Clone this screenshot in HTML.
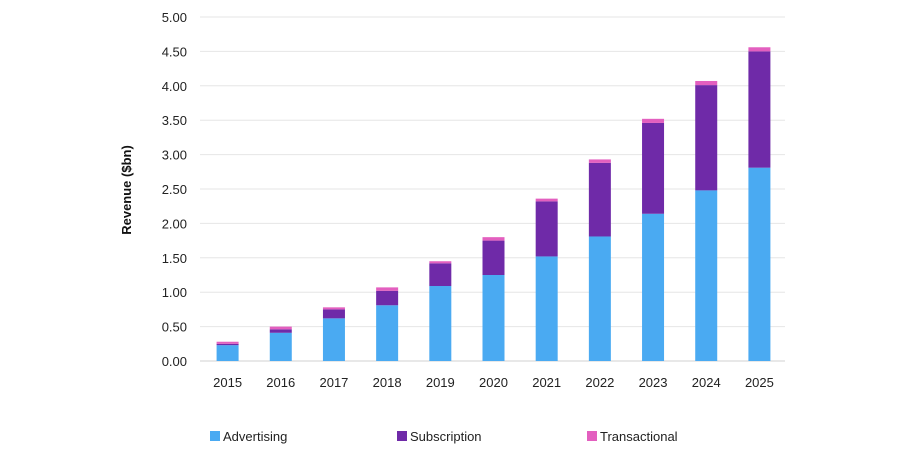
<!DOCTYPE html>
<html><head><meta charset="utf-8"><style>
body{margin:0;background:#fff;font-family:"Liberation Sans",sans-serif;}
</style></head><body>
<svg id="chart" width="900" height="447" xmlns="http://www.w3.org/2000/svg"></svg>
<script>
const years=["2015","2016","2017","2018","2019","2020","2021","2022","2023","2024","2025"];
const advertising=[0.23,0.41,0.62,0.81,1.09,1.25,1.52,1.81,2.14,2.48,2.81];
const subscription=[0.02,0.05,0.13,0.21,0.33,0.50,0.80,1.07,1.32,1.53,1.69];
const transactional=[0.03,0.04,0.03,0.05,0.03,0.05,0.04,0.05,0.06,0.06,0.06];
const yTicks=[0,0.5,1,1.5,2,2.5,3,3.5,4,4.5,5];
const NS="http://www.w3.org/2000/svg";
const svg=document.getElementById('chart');
const x0=200,x1=785,y0=361,y1=17,yMax=5;
const y=v=>y0-(v/yMax)*(y0-y1);
const step=(x1-x0)/years.length;
const xc=i=>x0+step*(i+0.5)+1;
function mk(t,a){const e=document.createElementNS(NS,t);for(const k in a)e.setAttribute(k,a[k]);svg.appendChild(e);return e;}
yTicks.forEach(t=>{
 const l=mk('line',{x1:x0,x2:x1,y1:y(t),y2:y(t),stroke:t===0?'#d0d0d0':'#e6e6e6','stroke-width':1});
 
 
 const tx=mk('text',{x:187,y:y(t)+5,'text-anchor':'end','font-size':13,fill:'#222'});
 tx.textContent=t.toFixed(2);
 
 
});
const cols=['#4aaaf2','#6f2aa8','#e35fbf'];
years.forEach((yr,i)=>{
 let base=0;
 [advertising[i],subscription[i],transactional[i]].forEach((v,s)=>{
  const r=mk('rect',{x:xc(i)-11,width:22,y:y(base+v),height:y(base)-y(base+v),fill:cols[s]});
  
  
  base+=v;
 });
 const tx=mk('text',{x:xc(i),y:387,'text-anchor':'middle','font-size':13,fill:'#222'});
 tx.textContent=yr;
 
 
});
const yt=mk('text',{x:0,y:0,transform:'translate(131,190) rotate(-90)','text-anchor':'middle','font-size':13,'font-weight':'bold',fill:'#111'});
yt.textContent='Revenue ($bn)';


const leg=[['Advertising',210],['Subscription',397],['Transactional',587]];
leg.forEach((l,i)=>{
 const r=mk('rect',{x:l[1],y:431,width:10,height:10,fill:cols[i]});
 
 
 const t=mk('text',{x:l[1]+13,y:441,'font-size':13,fill:'#222'});
 t.textContent=l[0];
 
 
});
</script>
</body></html>
